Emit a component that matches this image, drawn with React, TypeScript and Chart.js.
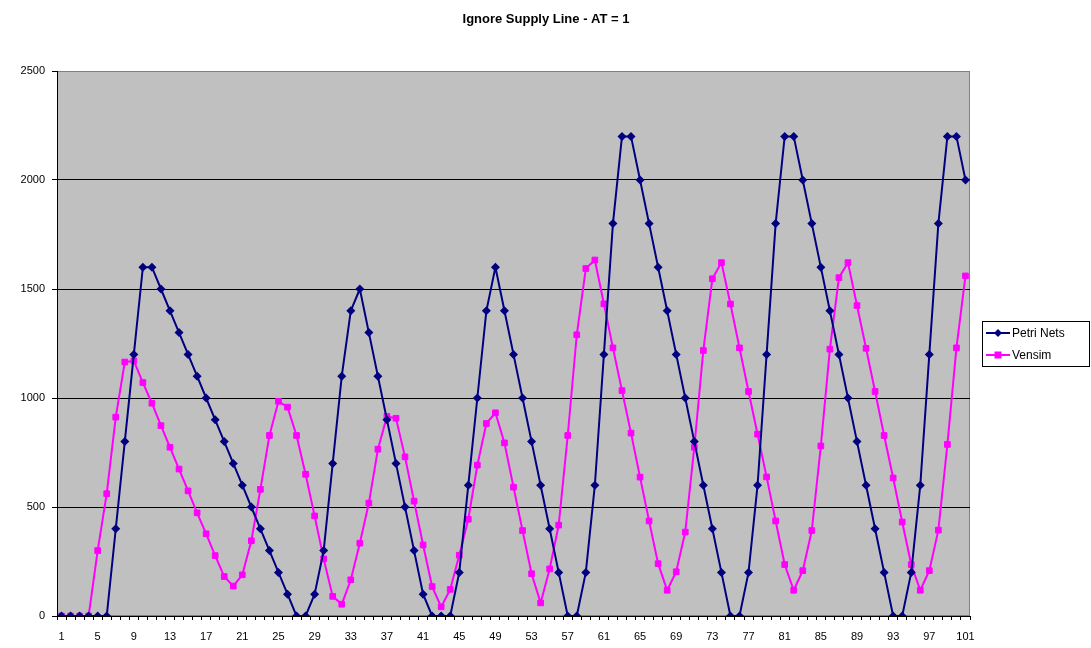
import React, { useEffect, useRef } from "react";
import { Chart, registerables } from "chart.js";

Chart.register(...registerables);

const TITLE = "Ignore Supply Line - AT = 1";
const SERIES_NAMES = ["Petri Nets", "Vensim"];
const CATEGORIES: string[] = Array.from({ length: 101 }, (_, i) => String(i + 1));

const petriNets = [
  0, 0, 0, 0, 0, 0, 400, 800, 1200, 1600,
  1600, 1500, 1400, 1300, 1200, 1100, 1000, 900, 800, 700,
  600, 500, 400, 300, 200, 100, 0, 0, 100, 300,
  700, 1100, 1400, 1500, 1300, 1100, 900, 700, 500, 300,
  100, 0, 0, 0, 200, 600, 1000, 1400, 1600, 1400,
  1200, 1000, 800, 600, 400, 200, 0, 0, 200, 600,
  1200, 1800, 2200, 2200, 2000, 1800, 1600, 1400, 1200, 1000,
  800, 600, 400, 200, 0, 0, 200, 600, 1200, 1800,
  2200, 2200, 2000, 1800, 1600, 1400, 1200, 1000, 800, 600,
  400, 200, 0, 0, 200, 600, 1200, 1800, 2200, 2200,
  2000,
];

const vensim = [
  0, 0, 0, 0, 300, 561, 912, 1165, 1170, 1071,
  976, 873, 774, 674, 574, 473, 377, 277, 181, 137,
  189, 345, 581, 828, 985, 958, 828, 650, 459, 262,
  90, 54, 166, 334, 518, 765, 915, 907, 730, 527,
  326, 135, 42, 122, 279, 444, 692, 883, 932, 794,
  591, 392, 194, 60, 216, 417, 828, 1290, 1594, 1633,
  1432, 1230, 1034, 839, 637, 436, 240, 118, 203, 385,
  774, 1218, 1547, 1621, 1431, 1230, 1030, 834, 638, 436,
  236, 118, 208, 392, 780, 1224, 1552, 1621, 1424, 1228,
  1030, 828, 633, 431, 236, 118, 208, 394, 787, 1230,
  1560,
];

const Y_MIN = 0;
const Y_MAX = 2500;
const Y_STEP = 500;

const NAVY = "#000080";
const PINK = "#FF00FF";
const FONT = "'Liberation Sans', Arial, sans-serif";

const decorPlugin = {
  id: "decor",
  beforeDraw(chart: any) {
    const { ctx, chartArea: a } = chart;
    ctx.save();
    ctx.fillStyle = "#C0C0C0";
    ctx.fillRect(a.left, a.top, a.right - a.left, a.bottom - a.top);
    ctx.strokeStyle = "#808080";
    ctx.lineWidth = 1;
    ctx.strokeRect(a.left + 0.5, a.top + 0.5, a.right - a.left - 1, a.bottom - a.top - 1);
    ctx.restore();
  },
  afterDraw(chart: any) {
    const { ctx } = chart;
    ctx.save();
    // title
    ctx.fillStyle = "#000";
    ctx.font = `bold 13px ${FONT}`;
    ctx.textAlign = "center";
    ctx.textBaseline = "middle";
    ctx.fillText(TITLE, 546, 19);

    // legend
    const bx = 982, by = 321, bw = 108, bh = 46;
    ctx.fillStyle = "#fff";
    ctx.fillRect(bx, by, bw, bh);
    ctx.strokeStyle = "#000";
    ctx.lineWidth = 1;
    ctx.strokeRect(bx + 0.5, by + 0.5, bw - 1, bh - 1);
    const rows = [
      { name: SERIES_NAMES[0], color: NAVY, y: 333, shape: "diamond" },
      { name: SERIES_NAMES[1], color: PINK, y: 355, shape: "square" },
    ];
    rows.forEach((r) => {
      ctx.strokeStyle = r.color;
      ctx.lineWidth = 2;
      ctx.beginPath();
      ctx.moveTo(986, r.y);
      ctx.lineTo(1010, r.y);
      ctx.stroke();
      ctx.fillStyle = r.color;
      const cx = 998;
      if (r.shape === "diamond") {
        ctx.beginPath();
        ctx.moveTo(cx, r.y - 4);
        ctx.lineTo(cx + 4, r.y);
        ctx.lineTo(cx, r.y + 4);
        ctx.lineTo(cx - 4, r.y);
        ctx.closePath();
        ctx.fill();
      } else {
        ctx.fillRect(cx - 3.5, r.y - 3.5, 7, 7);
      }
      ctx.fillStyle = "#000";
      ctx.font = `12px ${FONT}`;
      ctx.textAlign = "left";
      ctx.textBaseline = "middle";
      ctx.fillText(r.name, 1012, r.y + 1);
    });
    ctx.restore();
  },
};

export default function App() {
  const ref = useRef<HTMLCanvasElement | null>(null);

  useEffect(() => {
    if (!ref.current) return;
    const chart = new Chart(ref.current, {
      type: "line",
      data: {
        labels: CATEGORIES,
        datasets: [
          {
            label: SERIES_NAMES[0],
            data: petriNets,
            borderColor: NAVY,
            backgroundColor: NAVY,
            borderWidth: 2,
            pointStyle: "rectRot",
            pointRadius: 4.5,
            pointBorderWidth: 0,
            pointBackgroundColor: NAVY,
            tension: 0,
          },
          {
            label: SERIES_NAMES[1],
            data: vensim,
            borderColor: PINK,
            backgroundColor: PINK,
            borderWidth: 2,
            pointStyle: "rect",
            pointRadius: 4,
            pointBorderWidth: 1,
            pointBorderColor: PINK,
            pointBackgroundColor: PINK,
            tension: 0,
          },
        ],
      },
      options: {
        responsive: false,
        animation: false,
        devicePixelRatio: 1,
        layout: { padding: { left: 0, top: 71, right: 121, bottom: 0 } },
        plugins: {
          legend: { display: false },
          title: { display: false },
          tooltip: { enabled: false },
        },
        scales: {
          x: {
            type: "category",
            offset: true,
            afterFit: (s: any) => {
              s.height = 32;
            },
            grid: {
              display: true,
              drawOnChartArea: false,
              drawTicks: true,
              tickLength: 4,
              tickColor: "#000",
              offset: true,
            },
            border: { display: true, color: "#000", width: 1 },
            ticks: {
              autoSkip: false,
              maxRotation: 0,
              minRotation: 0,
              padding: 10,
              color: "#000",
              font: { family: FONT, size: 11 },
              callback: (_v: any, i: number) => (i % 4 === 0 ? CATEGORIES[i] : ""),
            },
          },
          y: {
            min: Y_MIN,
            max: Y_MAX,
            afterFit: (s: any) => {
              s.width = 57;
            },
            grid: {
              color: (c: any) => (c.tick && c.tick.value === Y_MAX ? "rgba(0,0,0,0)" : "#000"),
              tickColor: "#000",
              tickLength: 5,
              lineWidth: 1,
            },
            border: { display: true, color: "#000", width: 1 },
            ticks: {
              stepSize: Y_STEP,
              padding: 7,
              color: "#000",
              font: { family: FONT, size: 11 },
              callback: (v: any) => String(v),
            },
          },
        },
      },
      plugins: [decorPlugin],
    } as any);
    return () => chart.destroy();
  }, []);

  return (
    <div style={{ position: "absolute", left: 0, top: 0, width: 1091, height: 648, background: "#fff" }}>
      <canvas ref={ref} width={1091} height={648} style={{ display: "block" }} />
    </div>
  );
}
